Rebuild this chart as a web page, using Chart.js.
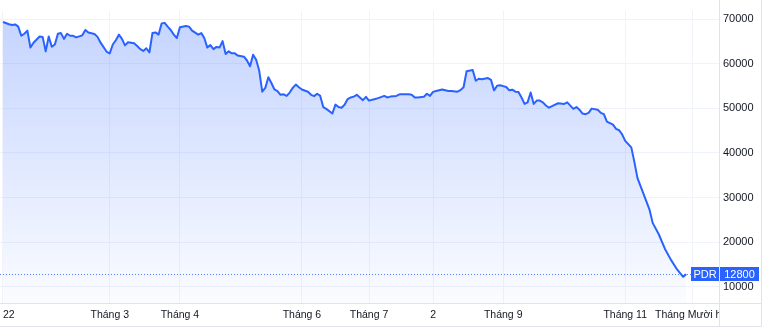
<!DOCTYPE html>
<html><head><meta charset="utf-8">
<script src="https://cdn.jsdelivr.net/npm/chart.js@4/dist/chart.umd.min.js"></script>
<style>html,body{margin:0;padding:0;background:#fff}#wrap{width:770px;height:330px}</style>
</head><body><div id="wrap"><canvas id="c" width="770" height="330"></canvas></div>
<script>
// Trading-session index (x) and closing price (y) for PDR, 2022
const sessions=[0,2,3,4,5,6,7,8,9,10,12,13,14,15,16,17,18,19,20,21,22,23,24,26,27,28,30,31,32,34,35,36,37,38,39,40,41,43,44,45,46,47,48,49,50,51,52,53,54,55,56,57,58,60,61,62,64,65,66,67,68,69,70,71,72,73,74,75,76,77,79,80,81,82,83,84,85,86,87,88,89,90,91,92,93,94,95,96,97,98,100,101,102,103,104,105,106,108,109,110,111,112,113,114,115,116,117,118,119,120,122,123,125,126,127,129,130,133,134,135,136,138,139,140,141,142,144,146,147,149,150,151,152,154,155,156,157,159,160,161,162,163,164,165,166,167,168,169,170,171,172,173,174,175,176,177,178,179,180,182,184,185,187,188,189,190,191,192,193,195,196,197,198,200,201,202,203,204,206,207,208,210,212,213,215,217,219,221,223,224];
const prices=[69400,68900,68700,68850,68350,66300,66750,67450,63650,64750,66150,66050,62800,66150,63850,64350,66750,66900,65600,66750,66300,66300,65950,66400,67600,67050,66700,66050,64750,62700,62350,64350,65300,66550,65600,64150,64850,64600,64000,63300,62900,63500,62550,66900,67050,66550,69050,69200,68350,67600,66550,65800,68200,68500,68350,67450,66550,66900,65800,63650,64200,63300,63800,63650,65100,62200,62800,62350,62350,61850,61600,60750,59450,62050,60900,58500,53750,54600,57000,55700,54250,53900,53050,53150,52800,53550,54600,55350,54750,54250,53750,53050,52750,53300,52800,50300,49900,48850,50850,50300,50150,50800,52100,52450,52650,53050,52450,51850,52600,51750,52100,52300,52800,52450,52650,52800,53150,53150,53050,52450,52450,52600,53300,52800,53700,53900,54250,53900,53900,53750,54100,54750,58350,58600,56200,56650,56550,56800,56400,54050,55100,55200,55000,54800,54050,54200,53750,53700,52450,51000,51350,53550,51000,51750,51750,51350,50650,50150,50500,51150,51000,51350,49900,50300,49700,48850,48700,49000,49950,49700,49000,48700,47050,46350,45400,45100,44150,42700,41250,38000,34400,30800,27200,24300,21750,18500,16000,13850,12200,12800];
const monthTickSessions=[0,35,58,98,120,141,164,204,226];
const monthTickLabels=["2022","Tháng 3","Tháng 4","Tháng 6","Tháng 7","2","Tháng 9","Tháng 11","Tháng Mười hai"];
const priceTicks=[10000,20000,30000,40000,50000,60000,70000];
const seriesName="PDR";
const lastPrice=12800;

const BLUE='#2962ff', GRID='#f0f3fa', BORDER='#e0e3eb', TEXT='#131722';
const FONT='"Liberation Sans", Arial, sans-serif';

const overlay={
  id:'overlay',
  beforeDatasetsDraw(chart){
    const c=chart.ctx, a=chart.chartArea, y=Math.round(chart.scales.y.getPixelForValue(lastPrice))+0.5;
    c.save(); c.strokeStyle='rgba(41,98,255,0.8)'; c.lineWidth=1; c.setLineDash([1,2]);
    c.beginPath(); c.moveTo(a.left,y); c.lineTo(a.right,y); c.stroke(); c.restore();
  },
  afterDraw(chart){
    const c=chart.ctx, a=chart.chartArea, xs=chart.scales.x, ys=chart.scales.y;
    c.save();
    // borders
    c.strokeStyle=BORDER; c.lineWidth=1;
    const R=761.5, B=326.5;
    c.beginPath();
    c.moveTo(0,Math.round(a.bottom)+0.5); c.lineTo(R,Math.round(a.bottom)+0.5);
    c.moveTo(0,B); c.lineTo(R,B);
    c.moveTo(Math.round(a.right)+0.5,0); c.lineTo(Math.round(a.right)+0.5,B);
    c.moveTo(R,0); c.lineTo(R,B);
    c.stroke();
    // x labels (clipped to plot width)
    c.save();
    c.beginPath(); c.rect(a.left+3,a.bottom+1,a.right-a.left-3,24); c.clip();
    c.fillStyle=TEXT; c.font='10.5px '+FONT; c.textAlign='center'; c.textBaseline='middle';
    monthTickSessions.forEach((s,i)=>{ c.fillText(monthTickLabels[i], xs.getPixelForValue(s), a.bottom+12.5); });
    c.restore();
    // last value labels
    const yp=Math.round(ys.getPixelForValue(lastPrice));
    c.fillStyle=BLUE;
    c.fillRect(a.right-28,yp-7,28,14);
    c.fillRect(a.right+1,yp-7,39,14);
    c.fillStyle='#fff'; c.font='11px '+FONT; c.textBaseline='middle'; c.textAlign='center';
    c.fillText(seriesName,a.right-14,yp+0.5);
    c.fillText(String(lastPrice),a.right+20.5,yp+0.5);
    c.restore();
  }
};

new Chart(document.getElementById('c'),{
  type:'line',
  data:{datasets:[{
    label:seriesName,
    data:sessions.map((s,i)=>({x:s,y:prices[i]})),
    borderColor:BLUE, borderWidth:2, pointRadius:0, tension:0,
    borderJoinStyle:'round', fill:'start',
    backgroundColor:(ctx)=>{
      const ch=ctx.chart, a=ch.chartArea;
      if(!a) return 'rgba(41,98,255,0.15)';
      const g=ch.ctx.createLinearGradient(0,a.top,0,a.bottom);
      g.addColorStop(0,'rgba(41,98,255,0.28)');
      g.addColorStop(1,'rgba(41,98,255,0.02)');
      return g;
    }
  }]},
  options:{
    responsive:false, animation:false, devicePixelRatio:1,
    layout:{padding:{left:0,right:9,top:0,bottom:4}},
    plugins:{legend:{display:false},tooltip:{enabled:false}},
    scales:{
      x:{type:'linear',min:-0.98,max:234.75,
        afterBuildTicks:s=>{s.ticks=monthTickSessions.map(v=>({value:v}));},
        afterFit:s=>{s.height=23;},
        ticks:{display:false},
        grid:{color:GRID,drawTicks:false},
        border:{display:false}},
      y:{position:'right',min:6320,max:71950,
        afterBuildTicks:s=>{s.ticks=priceTicks.map(v=>({value:v}));},
        afterFit:s=>{s.width=42;},
        ticks:{color:TEXT,font:{family:FONT,size:11},padding:4,callback:v=>String(v)},
        grid:{color:GRID,drawTicks:false},
        border:{display:false}}
    }
  },
  plugins:[overlay]
});
</script></body></html>
